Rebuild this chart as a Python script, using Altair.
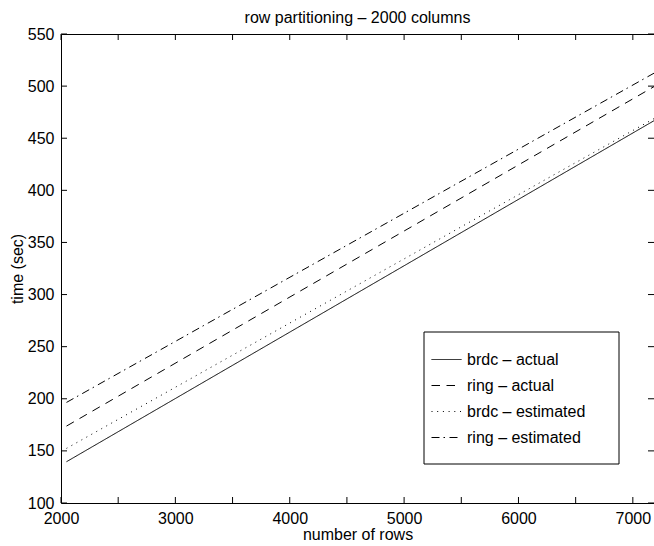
import altair as alt
import pandas as pd

# ---- data ----
series_names = ["brdc – actual", "ring – actual", "brdc – estimated", "ring – estimated"]
rows = [2048, 7185]
brdc_actual = [139.6, 466.8]
ring_actual = [173.8, 499.5]
brdc_estimated = [152.4, 468.8]
ring_estimated = [196.5, 512.4]

x_tick_values = [2000, 2500, 3000, 3500, 4000, 4500, 5000, 5500, 6000, 6500, 7000]
x_label_values = [2000, 3000, 4000, 5000, 6000, 7000]
y_tick_values = [100, 150, 200, 250, 300, 350, 400, 450, 500, 550]

series_values = [brdc_actual, ring_actual, brdc_estimated, ring_estimated]
records = []
for name, vals in zip(series_names, series_values):
    for r, v in zip(rows, vals):
        records.append({"rows": r, "time": v, "series": name})
df = pd.DataFrame(records)

FONT = "Liberation Sans"
W, H = 593, 469
TICK = 6

xs = alt.Scale(domain=[2000, 7185], nice=False, zero=False)
ys = alt.Scale(domain=[100, 550], nice=False, zero=False)

x_axis = alt.Axis(values=x_label_values, format="d", title="number of rows", orient="bottom",
                  ticks=False, tickSize=0, domain=False, grid=False,
                  labelFlush=False, labelPadding=7, labelFontSize=16, labelFont=FONT,
                  labelColor="black", titleFontSize=16, titleFont=FONT,
                  titleFontWeight="normal", titleColor="black", titlePadding=0)
y_axis = alt.Axis(values=y_tick_values, format="d", title="time (sec)", orient="left",
                  ticks=False, tickSize=0, domain=False, grid=False,
                  labelFlush=False, labelPadding=7, labelFontSize=16, labelFont=FONT,
                  labelColor="black", titleFontSize=16, titleFont=FONT,
                  titleFontWeight="normal", titleColor="black", titlePadding=2)

dashes = [[1, 0], [8.5, 6.5], [1, 4.7], [8, 4, 1.5, 4.5]]

lines = alt.Chart(df).mark_line(color="black", strokeWidth=1, clip=True).encode(
    x=alt.X("rows:Q", scale=xs, axis=x_axis),
    y=alt.Y("time:Q", scale=ys, axis=y_axis),
    strokeDash=alt.StrokeDash(
        "series:N",
        scale=alt.Scale(domain=series_names, range=dashes),
        legend=alt.Legend(title=None, orient="none", legendX=370, legendY=310,
                          padding=0, symbolType="stroke", symbolSize=900,
                          symbolStrokeColor="black", symbolStrokeWidth=1,
                          labelFontSize=16, labelFont=FONT, labelColor="black",
                          labelOffset=5, rowPadding=2),
    ),
)

xt = pd.DataFrame({"v": x_tick_values})
yt = pd.DataFrame({"v": y_tick_values})

bottom_ticks = alt.Chart(xt).mark_rule(color="black", strokeWidth=1).encode(
    x=alt.X("v:Q", scale=xs, axis=x_axis), y=alt.value(H), y2=alt.value(H - TICK))
top_ticks = alt.Chart(xt).mark_rule(color="black", strokeWidth=1).encode(
    x=alt.X("v:Q", scale=xs, axis=x_axis), y=alt.value(0), y2=alt.value(TICK))
left_ticks = alt.Chart(yt).mark_rule(color="black", strokeWidth=1).encode(
    y=alt.Y("v:Q", scale=ys, axis=y_axis), x=alt.value(0), x2=alt.value(TICK))
right_ticks = alt.Chart(yt).mark_rule(color="black", strokeWidth=1).encode(
    y=alt.Y("v:Q", scale=ys, axis=y_axis), x=alt.value(W), x2=alt.value(W - TICK))

legend_box = alt.Chart(pd.DataFrame({"a": [0]})).mark_rect(
    fill="white", stroke="black", strokeWidth=1).encode(
    x=alt.value(363), x2=alt.value(558), y=alt.value(298), y2=alt.value(430))

chart = alt.layer(
    lines, bottom_ticks, top_ticks, left_ticks, right_ticks, legend_box
).properties(
    width=W, height=H,
    title=alt.TitleParams("row partitioning – 2000 columns", fontSize=16, font=FONT,
                          fontWeight="normal", color="black", offset=0),
    autosize=alt.AutoSizeParams(type="none"),
    padding={"left": 61, "top": 34, "right": 0, "bottom": 43},
    background="white",
).resolve_scale(x="shared", y="shared").resolve_axis(x="shared", y="shared"
).configure_view(stroke="black", strokeWidth=1)

chart.save("out.html", embed_options={"renderer": "svg", "actions": False})
